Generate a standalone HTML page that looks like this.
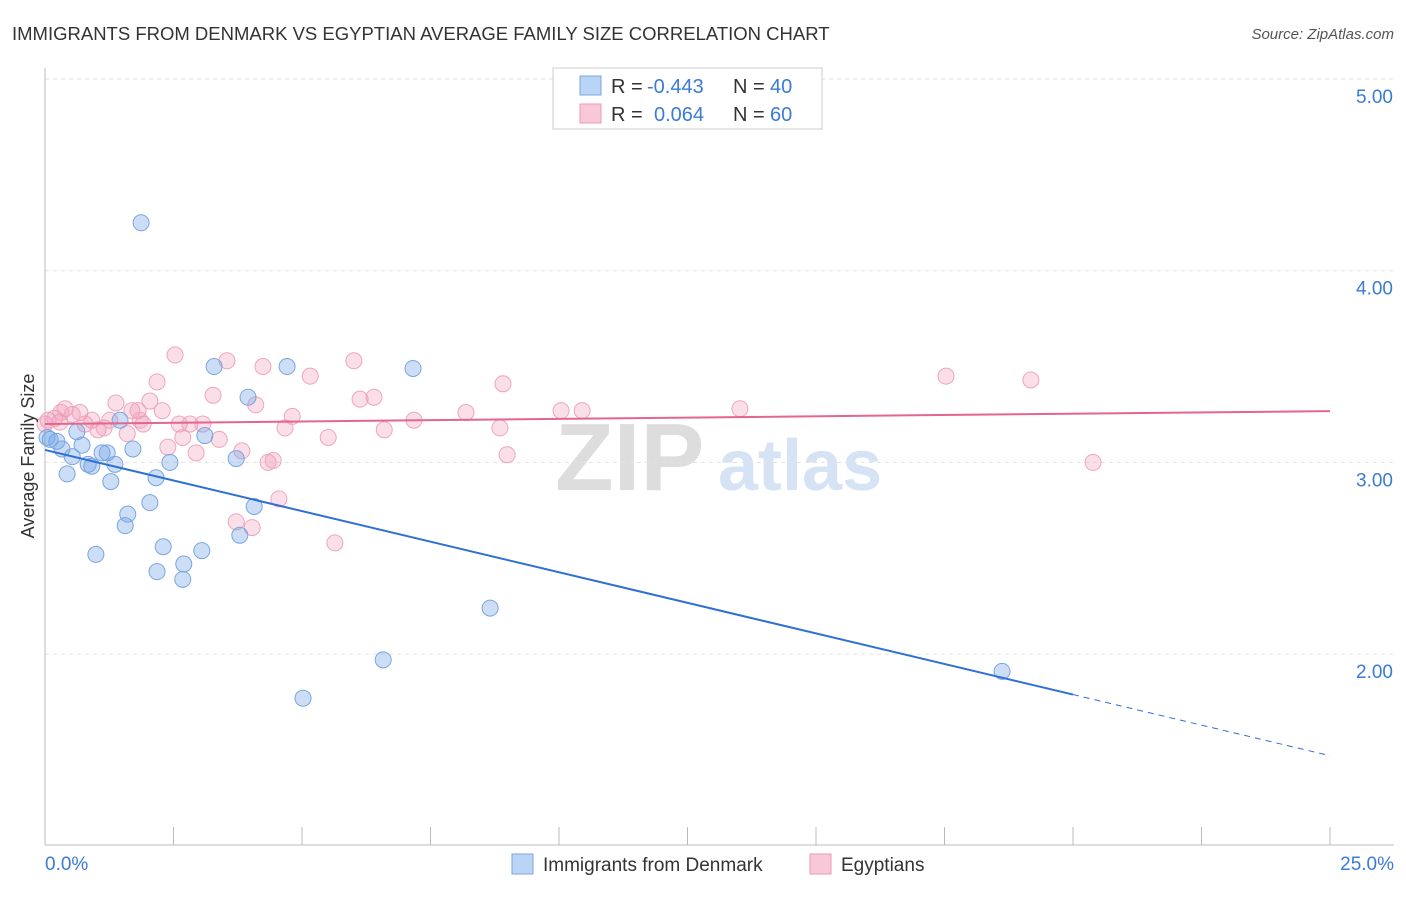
<!DOCTYPE html>
<html><head><meta charset="utf-8"><style>
body{margin:0;background:#fff;font-family:"Liberation Sans",sans-serif;}
svg text{font-family:"Liberation Sans",sans-serif;}
</style></head><body>
<svg width="1406" height="892" viewBox="0 0 1406 892">
<text x="12" y="40" font-size="18.5" fill="#333">IMMIGRANTS FROM DENMARK VS EGYPTIAN AVERAGE FAMILY SIZE CORRELATION CHART</text>
<text x="1394" y="39" font-size="15" fill="#555" font-style="italic" text-anchor="end">Source: ZipAtlas.com</text>
<g>
<text x="555" y="490" font-size="96" fill="#ddd" font-family="Liberation Serif" font-weight="bold">ZIP</text>
<text x="718" y="490" font-size="72" fill="#d5e3f5" font-weight="bold">atlas</text>
</g>
<g id="grid"></g>
<g id="axes"></g>
<g id="marks"></g>
<text transform="translate(34,456) rotate(-90)" font-size="18" fill="#333" text-anchor="middle">Average Family Size</text>
<g>
<rect x="553" y="68" width="269" height="61" fill="#fff" stroke="#ccc"/>
<rect x="580" y="76" width="21" height="19" fill="#b9d4f5" stroke="#7aa6e0"/>
<rect x="580" y="104" width="21" height="19" fill="#f8c8d8" stroke="#eb9ab5"/>
<text x="611" y="93" font-size="20" fill="#333">R =</text>
<text x="647" y="93" font-size="20" fill="#3a7bd5">-0.443</text>
<text x="733" y="93" font-size="20" fill="#333">N =</text>
<text x="770" y="93" font-size="20" fill="#3a7bd5">40</text>
<text x="611" y="121" font-size="20" fill="#333">R =</text>
<text x="654" y="121" font-size="20" fill="#3a7bd5">0.064</text>
<text x="733" y="121" font-size="20" fill="#333">N =</text>
<text x="770" y="121" font-size="20" fill="#3a7bd5">60</text>
</g>
<g>
<rect x="512" y="854" width="21" height="20" fill="#b9d4f5" stroke="#7aa6e0"/>
<text x="543" y="871" font-size="19" fill="#333">Immigrants from Denmark</text>
<rect x="810" y="854" width="21" height="20" fill="#f8c8d8" stroke="#eb9ab5"/>
<text x="841" y="871" font-size="19" fill="#333">Egyptians</text>
</g>
</svg>
<script>
const xTicks=[0,2.5,5,7.5,10,12.5,15,17.5,20,22.5,25];
const yTicks=[2,3,4,5];
const yTickLabels=["2.00","3.00","4.00","5.00"];
const denmarkX=[0.10,0.23,0.33,0.53,0.43,0.62,0.72,0.84,0.91,1.11,1.21,1.28,1.36,1.46,1.56,1.61,0.99,1.71,1.87,2.04,2.18,2.30,2.43,2.16,2.70,2.68,3.05,3.11,3.29,3.72,3.79,3.95,4.07,4.71,5.02,6.58,7.16,8.66,18.62,0.04];
const denmarkY=[3.12,3.11,3.07,3.03,2.94,3.16,3.09,2.99,2.98,3.05,3.05,2.90,2.99,3.22,2.67,2.73,2.52,3.07,4.25,2.79,2.43,2.56,3.00,2.92,2.47,2.39,2.54,3.14,3.50,3.02,2.62,3.34,2.77,3.50,1.77,1.97,3.49,2.24,1.91,3.13];
const egyptX=[0.06,0.19,0.29,0.39,0.53,0.68,0.78,0.91,1.03,1.15,1.26,1.38,1.60,1.69,1.81,1.91,2.04,2.18,2.28,2.39,2.53,2.61,2.68,2.82,2.94,3.07,3.27,3.39,3.54,3.72,3.83,4.03,4.10,4.24,4.34,4.44,4.55,4.67,4.81,5.16,5.51,5.64,6.01,6.13,6.40,6.60,7.18,8.19,8.85,8.91,8.99,10.04,10.45,13.52,17.53,19.18,20.39,0.31,1.85,0.0];
const egyptY=[3.22,3.23,3.21,3.28,3.25,3.26,3.20,3.22,3.17,3.18,3.22,3.31,3.15,3.27,3.27,3.20,3.32,3.42,3.27,3.08,3.56,3.20,3.13,3.20,3.05,3.20,3.35,3.12,3.53,2.69,3.06,2.66,3.30,3.50,3.00,3.01,2.81,3.18,3.24,3.45,3.13,2.58,3.53,3.33,3.34,3.17,3.22,3.26,3.18,3.41,3.04,3.27,3.27,3.28,3.45,3.43,3.00,3.26,3.22,3.20];
const denmarkFit=[3.065,-0.0638];
const egyptFit=[3.20,0.0027];
const NS="http://www.w3.org/2000/svg";
const X=v=>45+v*(1285/25);
const Y=v=>79+(5-v)*191.7;
function mk(tag,attrs,parent){const e=document.createElementNS(NS,tag);for(const k in attrs)e.setAttribute(k,attrs[k]);parent.appendChild(e);return e;}
const grid=document.getElementById('grid'),axes=document.getElementById('axes'),marks=document.getElementById('marks');
yTicks.forEach((t,i)=>{
 const l=mk('line',{x1:45,x2:1394,y1:Y(t),y2:Y(t),stroke:'#e2e2e2','stroke-dasharray':'4,4'},grid);
 
 
 const tx=mk('text',{x:1393,y:Y(t)+24,'font-size':19,fill:'#3a7bd5','text-anchor':'end'},axes);
 tx.textContent=yTickLabels[i];
 
 
});
const xa=mk('line',{x1:45,x2:1394,y1:845,y2:845,stroke:'#bbb'},axes);


const ya=mk('line',{x1:45,x2:45,y1:68,y2:845,stroke:'#bbb'},axes);


xTicks.forEach(t=>{
 const l=mk('line',{x1:X(t),x2:X(t),y1:827,y2:845,stroke:'#bbb'},axes);
 
 
});
const x0=mk('text',{x:45,y:870,'font-size':19,fill:'#3a7bd5'},axes);x0.textContent=xTicks[0].toFixed(1)+'%';


const x1=mk('text',{x:1394,y:870,'font-size':19,fill:'#3a7bd5','text-anchor':'end'},axes);x1.textContent=xTicks[xTicks.length-1].toFixed(1)+'%';


egyptX.forEach((v,i)=>{
 const c=mk('circle',{cx:X(v),cy:Y(egyptY[i]),r:8,fill:'rgba(240,150,180,0.3)',stroke:'#eea5be','stroke-width':1},marks);
 
 
});
denmarkX.forEach((v,i)=>{
 const c=mk('circle',{cx:X(v),cy:Y(denmarkY[i]),r:8,fill:'rgba(110,160,230,0.35)',stroke:'#7aa6e0','stroke-width':1},marks);
 
 
});
const f=(fit,x)=>fit[0]+fit[1]*x;
const bl=mk('line',{x1:X(0),y1:Y(f(denmarkFit,0)),x2:X(20),y2:Y(f(denmarkFit,20)),stroke:'#2f6fd6','stroke-width':2},marks);


const bd=mk('line',{x1:X(20),y1:Y(f(denmarkFit,20)),x2:X(25),y2:Y(f(denmarkFit,25)),stroke:'#2f6fd6','stroke-width':1,'stroke-dasharray':'6,5'},marks);


const pl=mk('line',{x1:X(0),y1:Y(f(egyptFit,0)),x2:X(25),y2:Y(f(egyptFit,25)),stroke:'#e2668f','stroke-width':2},marks);


</script>
</body></html>
